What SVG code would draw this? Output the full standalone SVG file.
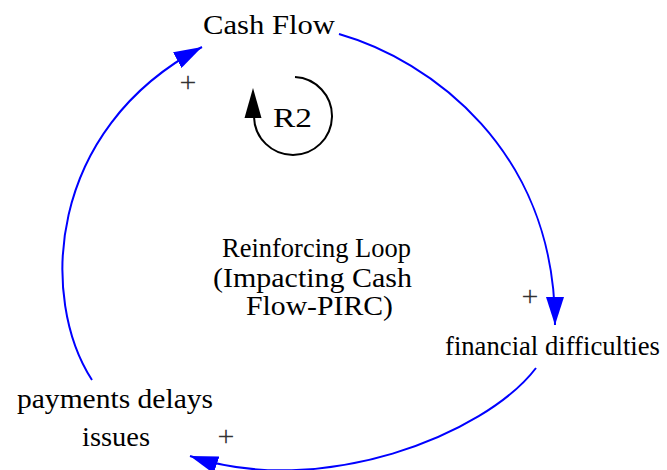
<svg xmlns="http://www.w3.org/2000/svg" width="667" height="470" viewBox="0 0 667 470">
<defs>
<style>
.lbl{font-family:"Liberation Serif","DejaVu Serif","Noto Serif",serif;font-size:28px;fill:#000}
.pl{font-family:"Liberation Serif","DejaVu Serif",serif;font-size:30px;fill:#333;text-anchor:middle}
.lnk{fill:none;stroke:#0000FF;stroke-width:2;marker-end:url(#ab)}
</style>
<marker id="ab" markerUnits="userSpaceOnUse" markerWidth="28" markerHeight="18" viewBox="0 0 28 18" refX="28" refY="9" orient="auto">
<path d="M0,0 L28,9 L0,18 z" fill="#0000FF"/>
</marker>
</defs>
<rect width="667" height="470" fill="#fff"/>
<g id="connectors">
<path class="lnk" d="M339,34 C430,60 555,150 555,325"/>
<path class="lnk" d="M536,368 C485,435 320,500 190,456"/>
<path class="lnk" d="M92,380 C40,300 45,130 202,47"/>
</g>
<g id="polarities">
<text class="pl" x="188" y="92">+</text>
<text class="pl" x="530" y="306">+</text>
<text class="pl" x="226" y="446">+</text>
</g>
<g id="cash-flow"><text class="lbl" x="203" y="34" textLength="132" lengthAdjust="spacingAndGlyphs">Cash Flow</text></g>
<g id="financial-difficulties"><text class="lbl" x="445" y="355" style="font-size:26.5px" textLength="215" lengthAdjust="spacingAndGlyphs">financial difficulties</text></g>
<g id="payments-delays-issues">
<text class="lbl" x="17" y="408" textLength="196" lengthAdjust="spacingAndGlyphs">payments delays</text>
<text class="lbl" x="82" y="446" textLength="68" lengthAdjust="spacingAndGlyphs">issues</text>
</g>
<g id="loop-label">
<text class="lbl" x="222" y="257" textLength="189" lengthAdjust="spacingAndGlyphs">Reinforcing Loop</text>
<text class="lbl" x="213" y="287" textLength="199" lengthAdjust="spacingAndGlyphs">(Impacting Cash</text>
<text class="lbl" x="246" y="315" textLength="147" lengthAdjust="spacingAndGlyphs">Flow-PIRC)</text>
</g>
<g id="loop-r2">
<path d="M295,77 A39,39 0 1 1 254,117" fill="none" stroke="#000" stroke-width="2"/>
<path d="M253,88 L261.5,118 L244.5,118 z" fill="#000"/>
<text class="lbl" x="273" y="127" textLength="39" lengthAdjust="spacingAndGlyphs">R2</text>
</g>
</svg>
